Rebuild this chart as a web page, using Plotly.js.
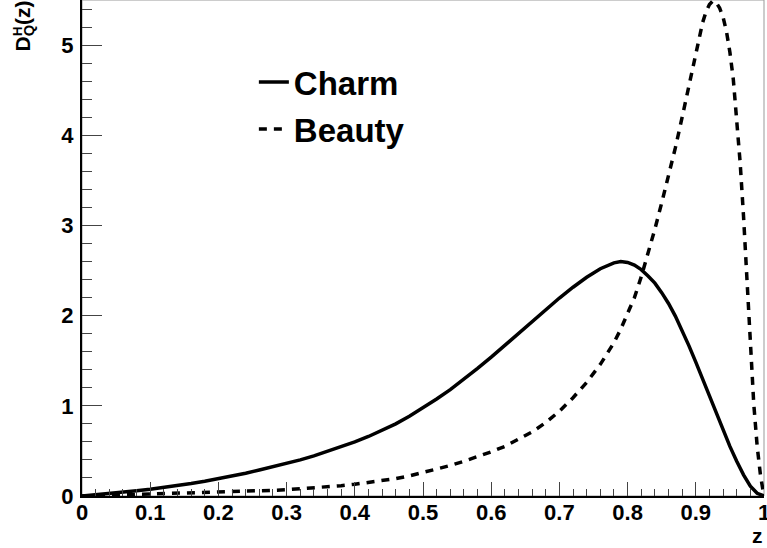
<!DOCTYPE html>
<html>
<head>
<meta charset="utf-8">
<script src="https://cdn.plot.ly/plotly-3.0.1.min.js"></script>
<style>
  html, body { margin: 0; padding: 0; background: #fff; }
  #chart { width: 767px; height: 548px; }
</style>
</head>
<body>
<div id="chart"></div>
<script>
// Fragmentation functions D_Q^H(z) for charm and beauty quarks
const zCharm = [0, 0.02, 0.04, 0.06, 0.08, 0.10, 0.12, 0.14, 0.16, 0.18, 0.20, 0.22, 0.24, 0.26,
  0.28, 0.30, 0.32, 0.34, 0.36, 0.38, 0.40, 0.42, 0.44, 0.46, 0.48, 0.50, 0.52, 0.54, 0.56, 0.58,
  0.60, 0.62, 0.64, 0.66, 0.68, 0.70, 0.72, 0.74, 0.76, 0.78, 0.79, 0.80, 0.81, 0.82, 0.83, 0.84,
  0.85, 0.86, 0.87, 0.88, 0.89, 0.90, 0.91, 0.92, 0.93, 0.94, 0.95, 0.96, 0.97, 0.98, 0.99, 1.0];
const dCharm = [0, 0.013, 0.028, 0.043, 0.058, 0.075, 0.094, 0.115, 0.138, 0.163, 0.19, 0.22, 0.253, 0.288,
  0.323, 0.36, 0.40, 0.445, 0.495, 0.545, 0.60, 0.66, 0.727, 0.80, 0.885, 0.975, 1.075, 1.18, 1.295, 1.415,
  1.54, 1.672, 1.805, 1.94, 2.07, 2.195, 2.315, 2.425, 2.52, 2.585, 2.60, 2.59, 2.56, 2.51, 2.44, 2.36,
  2.255, 2.135, 1.995, 1.835, 1.665, 1.485, 1.295, 1.10, 0.91, 0.73, 0.55, 0.385, 0.235, 0.11, 0.03, 0];

const zBeauty = [0, 0.02, 0.04, 0.06, 0.08, 0.10, 0.12, 0.14, 0.16, 0.18, 0.20, 0.22, 0.24, 0.26,
  0.28, 0.30, 0.32, 0.34, 0.36, 0.38, 0.40, 0.42, 0.44, 0.46, 0.48, 0.50, 0.52, 0.54, 0.56, 0.58,
  0.60, 0.62, 0.64, 0.66, 0.68, 0.70, 0.72, 0.74, 0.76, 0.78, 0.79, 0.80, 0.81, 0.82, 0.83, 0.84,
  0.85, 0.86, 0.87, 0.88, 0.89, 0.90, 0.91, 0.915, 0.92, 0.925, 0.93, 0.935, 0.94, 0.945, 0.95,
  0.955, 0.96, 0.965, 0.97, 0.975, 0.98, 0.985, 0.99, 0.995, 1.0];
const dBeauty = [0, 0.004, 0.008, 0.012, 0.016, 0.02, 0.024, 0.028, 0.032, 0.036, 0.04, 0.045, 0.051, 0.057,
  0.063, 0.07, 0.079, 0.089, 0.10, 0.114, 0.13, 0.148, 0.168, 0.193, 0.223, 0.258, 0.295, 0.338, 0.385, 0.435,
  0.49, 0.55, 0.625, 0.71, 0.815, 0.94, 1.09, 1.26, 1.46, 1.70, 1.85, 2.02, 2.20, 2.43, 2.69, 2.96,
  3.25, 3.55, 3.86, 4.20, 4.55, 4.93, 5.25, 5.37, 5.45, 5.49, 5.47, 5.41, 5.31, 5.15, 4.92,
  4.62, 4.21, 3.70, 3.10, 2.40, 1.65, 1.02, 0.55, 0.22, 0];

const seriesNames = ['Charm', 'Beauty'];

const FONT = 'Liberation Sans, Arial, Helvetica, sans-serif';

const traces = [
  {
    x: zCharm, y: dCharm, name: seriesNames[0], legendgroup: 'c',
    type: 'scatter', mode: 'lines',
    line: { color: '#000', width: 3.5 },
    hoverinfo: 'skip'
  },
  {
    x: zBeauty, y: dBeauty, name: seriesNames[1], legendgroup: 'b',
    type: 'scatter', mode: 'lines',
    line: { color: '#000', width: 3.5, dash: '8px,7px' },
    hoverinfo: 'skip'
  }
];

const tickFont = { family: FONT, size: 22, color: '#000', weight: 'bold' };

const layout = {
  width: 767, height: 548,
  margin: { l: 82, r: 3, t: 0, b: 52 },
  paper_bgcolor: '#fff', plot_bgcolor: '#fff',
  showlegend: true,
  legend: {
    x: 0.252, y: 0.891, xanchor: 'left', yanchor: 'top',
    bgcolor: 'rgba(0,0,0,0)', borderwidth: 0,
    font: { family: FONT, size: 33, color: '#000', weight: 'bold' },
    tracegroupgap: 1
  },
  xaxis: {
    range: [0, 1], dtick: 0.1, tick0: 0,
    showgrid: false, zeroline: false,
    showline: true, linecolor: '#000', linewidth: 2,
    ticks: 'inside', ticklen: 14, tickwidth: 1, tickcolor: '#444',
    minor: { dtick: 0.02, ticks: 'inside', ticklen: 7, tickwidth: 1, tickcolor: '#444', showgrid: false },
    tickfont: tickFont, ticklabeloverflow: 'allow', ticklabelstandoff: -4
  },
  yaxis: {
    range: [0, 5.5], dtick: 1, tick0: 0,
    showgrid: false, zeroline: false,
    showline: true, linecolor: '#000', linewidth: 2,
    ticks: 'inside', ticklen: 20, tickwidth: 1, tickcolor: '#444',
    minor: { dtick: 0.2, ticks: 'inside', ticklen: 10, tickwidth: 1, tickcolor: '#444', showgrid: false },
    tickfont: tickFont, ticklabeloverflow: 'allow', ticklabelstandoff: 2
  },
  shapes: [
    { type: 'rect', xref: 'paper', yref: 'paper', x0: 0, x1: 1, y0: 0, y1: 1,
      line: { color: '#999', width: 1 }, layer: 'below' }
  ],
  annotations: [
    { text: 'z', xref: 'paper', yref: 'paper', x: 1, y: 0, xanchor: 'right', yanchor: 'top',
      xshift: 1, yshift: -26, showarrow: false,
      font: { family: FONT, size: 21, color: '#000', weight: 'bold' } },
    { text: 'D<sub>Q</sub>(z)', xref: 'paper', yref: 'paper', x: 0, y: 1, xanchor: 'center', yanchor: 'top',
      xshift: -59, yshift: 1, textangle: -90, showarrow: false,
      font: { family: FONT, size: 21, color: '#000', weight: 'bold' } },
    { text: 'H', xref: 'paper', yref: 'paper', x: 0, y: 1, xanchor: 'center', yanchor: 'middle',
      xshift: -65, yshift: -32, textangle: -90, showarrow: false,
      font: { family: FONT, size: 13, color: '#000', weight: 'bold' } }
  ]
};

Plotly.newPlot('chart', traces, layout, { staticPlot: true, displayModeBar: false });
</script>
</body>
</html>
